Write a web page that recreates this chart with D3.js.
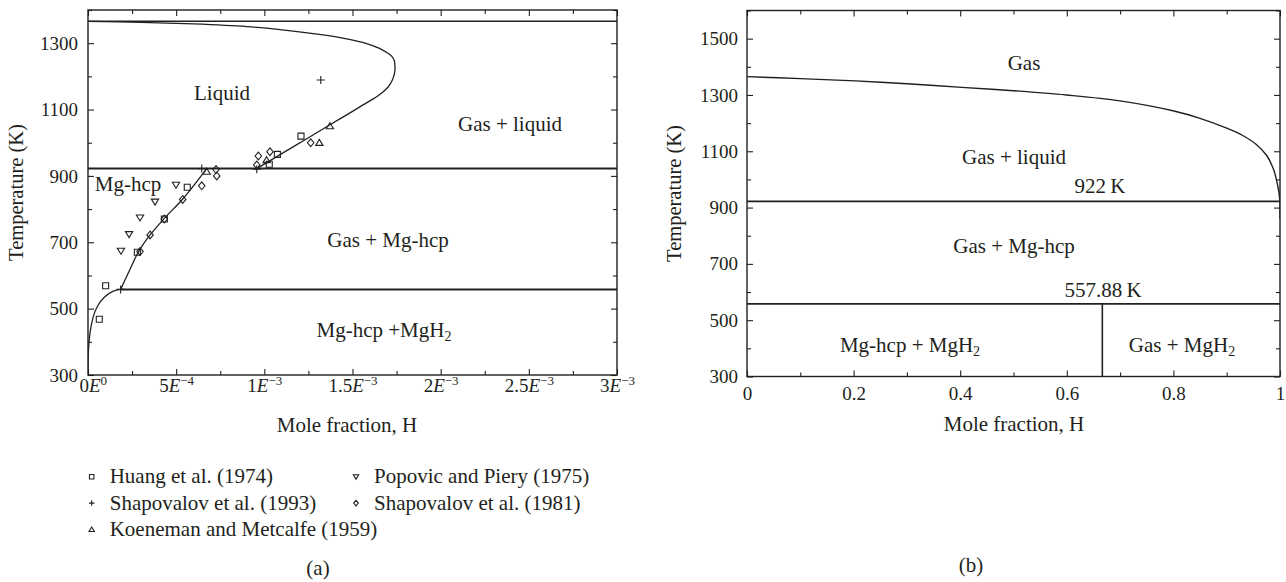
<!DOCTYPE html>
<html>
<head>
<meta charset="utf-8">
<script src="https://cdn.jsdelivr.net/npm/d3@7"></script>
<style>
    body { margin: 0; background: #fff; }
    svg text { font-family: "Liberation Serif", "Times New Roman", serif; fill: #231f20; }
</style>
</head>
<body>
<svg id="chart" width="1286" height="582"></svg>
<script>
// ---------- Panel (a): H in Mg, low mole fraction ----------
const xTicksA = [0, 5e-4, 1e-3, 1.5e-3, 2e-3, 2.5e-3, 3e-3];
const xMinorA = [2.5e-4, 7.5e-4, 1.25e-3, 1.75e-3, 2.25e-3, 2.75e-3];
const xMantA = ["0", "5", "1", "1.5", "2", "2.5", "3"];
const xExpA = ["0", "\u22124", "\u22123", "\u22123", "\u22123", "\u22123", "\u22123"];
const yTicksA = [300, 500, 700, 900, 1100, 1300];
const yMinorA = [400, 600, 800, 1000, 1200, 1400];

// gas / liquid boundary (from the eutectic up round the nose to x = 0)
const gasLiquidA = [
    [0.957e-3, 922], [1.089e-3, 964], [1.25e-3, 1015], [1.372e-3, 1054], [1.467e-3, 1084],
    [1.56e-3, 1114], [1.62e-3, 1133], [1.666e-3, 1150], [1.702e-3, 1168], [1.726e-3, 1189],
    [1.738e-3, 1209], [1.741e-3, 1229], [1.737e-3, 1247], [1.722e-3, 1261], [1.694e-3, 1272],
    [1.65e-3, 1285], [1.58e-3, 1299], [1.467e-3, 1313], [1.3e-3, 1327], [1.089e-3, 1341],
    [0.9e-3, 1350], [0.6e-3, 1358], [0.3e-3, 1363], [0, 1366]
];
// Mg-hcp solvus, below and above the 557.88 K line
const solvusLowA = [
    [0, 300], [0.001e-3, 355], [0.007e-3, 405], [0.017e-3, 445], [0.030e-3, 476],
    [0.058e-3, 511], [0.096e-3, 536], [0.143e-3, 553], [0.185e-3, 558]
];
const solvusHighA = [
    [0.185e-3, 558], [0.235e-3, 615], [0.285e-3, 670], [0.352e-3, 722],
    [0.433e-3, 772], [0.54e-3, 832], [0.673e-3, 922]
];
// isotherms: [T, xStart, xEnd]
const isothermsA = [[1366, 0, 3e-3], [922, 0, 3e-3], [557.88, 0.185e-3, 3e-3]];

// measured points
const huang1974 = [[1.208e-3, 1020], [1.074e-3, 965], [1.028e-3, 935], [0.563e-3, 866],
    [0.433e-3, 770], [0.280e-3, 670], [0.100e-3, 569], [0.064e-3, 468]];
const popovic1975 = [[0.499e-3, 873], [0.380e-3, 822], [0.295e-3, 774], [0.233e-3, 724], [0.187e-3, 674]];
const shapovalov1993 = [[1.320e-3, 1189], [0.645e-3, 922], [0.957e-3, 920], [0.185e-3, 558]];
const shapovalov1981 = [[1.263e-3, 1000], [1.032e-3, 973], [0.966e-3, 960], [0.957e-3, 933],
    [0.730e-3, 900], [0.726e-3, 919], [0.645e-3, 870], [0.537e-3, 829], [0.433e-3, 770],
    [0.352e-3, 722], [0.295e-3, 672]];
const koeneman1959 = [[1.372e-3, 1050], [1.312e-3, 1000], [1.013e-3, 948], [0.673e-3, 913]];

// ---------- Panel (b): full composition range ----------
const xTicksB = [0, 0.2, 0.4, 0.6, 0.8, 1];
const xMinorB = [0.1, 0.3, 0.5, 0.7, 0.9];
const xLabelsB = ["0", "0.2", "0.4", "0.6", "0.8", "1"];
const yTicksB = [300, 500, 700, 900, 1100, 1300, 1500];
const yMinorB = [400, 600, 800, 1000, 1200, 1400, 1600];

const dewLineB = [
    [0, 1365], [0.1, 1358], [0.203, 1350], [0.3, 1340], [0.403, 1327], [0.5, 1315],
    [0.599, 1300], [0.7, 1279], [0.801, 1243], [0.85, 1217], [0.9, 1182], [0.93, 1156],
    [0.955, 1125], [0.975, 1085], [0.988, 1035], [0.996, 975], [0.9995, 930], [1, 860]
];
const isothermsB = [[922, 0, 1], [557.88, 0, 1]];
const mgh2X = 2 / 3;   // MgH2 line composition
const mgh2Top = 557.88;

// ---------- setup ----------
const ink = "#231f20";
const svg = d3.select("#chart");

const xA = d3.scaleLinear().domain([0, 3e-3]).range([88, 617]);
const yA = d3.scaleLinear().domain([300, 1400]).range([375, 10]);
const xB = d3.scaleLinear().domain([0, 1]).range([747, 1280]);
const yB = d3.scaleLinear().domain([300, 1600]).range([376.5, 10.5]);

// custom marker shapes
const symbols = {
    square: { draw(c, s) { const r = Math.sqrt(s) / 2; c.rect(-r, -r, 2 * r, 2 * r); } },
    diamond: { draw(c, s) { const r = Math.sqrt(s) / 2; c.moveTo(0, -r * 1.2); c.lineTo(r, 0); c.lineTo(0, r * 1.2); c.lineTo(-r, 0); c.closePath(); } },
    up: { draw(c, s) { const r = Math.sqrt(s) / 2; c.moveTo(0, -r); c.lineTo(r * 1.1, r * 0.8); c.lineTo(-r * 1.1, r * 0.8); c.closePath(); } },
    down: { draw(c, s) { const r = Math.sqrt(s) / 2; c.moveTo(0, r); c.lineTo(r * 1.1, -r * 0.8); c.lineTo(-r * 1.1, -r * 0.8); c.closePath(); } },
    plus: { draw(c, s) { const r = Math.sqrt(s) / 2; c.moveTo(-r, 0); c.lineTo(r, 0); c.moveTo(0, -r); c.lineTo(0, r); } }
};

function drawAxes(x, y, xt, xm, yt, ym, xPad, yPad) {
    const [x0, x1] = x.range();
    const [y0, y1] = y.range();
    const g = svg.append("g").attr("color", ink);
    const clean = s => s.call(a => a.select(".domain").remove());

    const bottom = g.append("g").attr("transform", `translate(0,${y0})`)
        .call(d3.axisBottom(x).tickValues(xt).tickSize(-6).tickPadding(xPad)).call(clean);
    g.append("g").attr("transform", `translate(0,${y0})`)
        .call(d3.axisBottom(x).tickValues(xm).tickSize(-4).tickFormat("")).call(clean);
    g.append("g").attr("transform", `translate(0,${y1})`)
        .call(d3.axisTop(x).tickValues(xt).tickSize(-6).tickFormat("")).call(clean);
    g.append("g").attr("transform", `translate(0,${y1})`)
        .call(d3.axisTop(x).tickValues(xm).tickSize(-4).tickFormat("")).call(clean);

    g.append("g").attr("transform", `translate(${x0},0)`)
        .call(d3.axisLeft(y).tickValues(yt).tickSize(-6).tickPadding(yPad).tickFormat(d3.format("d"))).call(clean);
    g.append("g").attr("transform", `translate(${x0},0)`)
        .call(d3.axisLeft(y).tickValues(ym).tickSize(-4).tickFormat("")).call(clean);
    g.append("g").attr("transform", `translate(${x1},0)`)
        .call(d3.axisRight(y).tickValues(yt).tickSize(-6).tickFormat("")).call(clean);
    g.append("g").attr("transform", `translate(${x1},0)`)
        .call(d3.axisRight(y).tickValues(ym).tickSize(-4).tickFormat("")).call(clean);

    g.selectAll(".tick line").attr("stroke-width", 1.1);
    g.selectAll("text").attr("font-family", null).attr("font-size", 19).attr("fill", ink);

    g.append("rect")
        .attr("x", x0).attr("y", y1).attr("width", x1 - x0).attr("height", y0 - y1)
        .attr("fill", "none").attr("stroke", ink).attr("stroke-width", 1.4);
    return bottom;
}

function clipFor(id, x, y) {
    svg.append("clipPath").attr("id", id).append("rect")
        .attr("x", x.range()[0]).attr("y", y.range()[1])
        .attr("width", x.range()[1] - x.range()[0]).attr("height", y.range()[0] - y.range()[1]);
}

function label(x, y, txt, opts = {}) {
    const t = svg.append("text").attr("x", x).attr("y", y)
        .attr("text-anchor", opts.anchor || "middle")
        .attr("font-size", opts.size || 21);
    if (opts.rotate) t.attr("transform", `rotate(-90,${x},${y})`);
    if (opts.sub) {
        t.append("tspan").text(txt);
        t.append("tspan").attr("dy", "0.3em").attr("font-size", 14).text(opts.sub);
    } else {
        t.text(txt);
    }
    return t;
}

// ---------- panel (a) ----------
clipFor("clipA", xA, yA);
const bottomA = drawAxes(xA, yA, xTicksA, xMinorA, yTicksA, yMinorA, 4, 10);
bottomA.selectAll(".tick text").each(function (d, i) {
    const t = d3.select(this).text(null);
    t.append("tspan").text(xMantA[i]);
    t.append("tspan").attr("font-style", "italic").text("E");
    t.append("tspan").attr("dy", "-0.55em").attr("font-size", 13).text(xExpA[i]);
});
// first label sits a touch right of the corner so it clears the "300"
bottomA.select(".tick text").attr("dx", "0.25em");

const plotA = svg.append("g").attr("clip-path", "url(#clipA)");
plotA.selectAll("line.iso").data(isothermsA).join("line")
    .attr("x1", d => xA(d[1])).attr("x2", d => xA(d[2]))
    .attr("y1", d => yA(d[0])).attr("y2", d => yA(d[0]))
    .attr("stroke", ink).attr("stroke-width", (d, i) => i === 0 ? 1.5 : 2);

const lineA = d3.line().x(d => xA(d[0])).y(d => yA(d[1]));
plotA.append("path").attr("d", lineA.curve(d3.curveCatmullRom.alpha(0.5))(gasLiquidA))
    .attr("fill", "none").attr("stroke", ink).attr("stroke-width", 1.3);
plotA.append("path").attr("d", lineA.curve(d3.curveMonotoneX)(solvusLowA))
    .attr("fill", "none").attr("stroke", ink).attr("stroke-width", 1.3);
plotA.append("path").attr("d", lineA.curve(d3.curveCatmullRom.alpha(0.5))(solvusHighA))
    .attr("fill", "none").attr("stroke", ink).attr("stroke-width", 1.3);

const seriesA = [
    { data: huang1974, shape: "square", size: 36 },
    { data: popovic1975, shape: "down", size: 44 },
    { data: shapovalov1993, shape: "plus", size: 64 },
    { data: shapovalov1981, shape: "diamond", size: 42 },
    { data: koeneman1959, shape: "up", size: 44 }
];
seriesA.forEach(s => {
    plotA.append("g").selectAll("path").data(s.data).join("path")
        .attr("transform", d => `translate(${xA(d[0])},${yA(d[1])})`)
        .attr("d", d3.symbol(symbols[s.shape], s.size))
        .attr("fill", "none")
        .attr("stroke", ink).attr("stroke-width", 1.1);
});

label(222, 100, "Liquid");
label(510, 130.5, "Gas + liquid");
label(128, 191, "Mg-hcp");
label(388, 247, "Gas + Mg-hcp");
label(384, 337, "Mg-hcp +MgH", { sub: "2" });
label(347, 431.5, "Mole fraction, H");
label(23, 192.5, "Temperature (K)", { rotate: true, size: 20.5 });

// legend
const legendItems = [
    { name: "Huang et al. (1974)", shape: "square", size: 20, col: 0, row: 0 },
    { name: "Shapovalov et al. (1993)", shape: "plus", size: 30, col: 0, row: 1 },
    { name: "Koeneman and Metcalfe (1959)", shape: "up", size: 24, col: 0, row: 2 },
    { name: "Popovic and Piery (1975)", shape: "down", size: 24, col: 1, row: 0 },
    { name: "Shapovalov et al. (1981)", shape: "diamond", size: 22, col: 1, row: 1 }
];
const legend = svg.append("g").selectAll("g").data(legendItems).join("g")
    .attr("transform", d => `translate(${d.col ? 356 : 91.7},${476.7 + d.row * 26.4})`);
legend.append("path").attr("d", d => d3.symbol(symbols[d.shape], d.size)())
    .attr("fill", "none").attr("stroke", ink).attr("stroke-width", 1.1);
legend.append("text").attr("x", 18).attr("y", 6.5).attr("font-size", 21).text(d => d.name);

label(318, 575, "(a)");

// ---------- panel (b) ----------
clipFor("clipB", xB, yB);
const bottomB = drawAxes(xB, yB, xTicksB, xMinorB, yTicksB, yMinorB, 10.5, 9);
bottomB.selectAll(".tick text").text((d, i) => xLabelsB[i]);

const plotB = svg.append("g").attr("clip-path", "url(#clipB)");
plotB.selectAll("line.iso").data(isothermsB).join("line")
    .attr("x1", d => xB(d[1])).attr("x2", d => xB(d[2]))
    .attr("y1", d => yB(d[0])).attr("y2", d => yB(d[0]))
    .attr("stroke", ink).attr("stroke-width", 1.6);
plotB.append("line")
    .attr("x1", xB(mgh2X)).attr("x2", xB(mgh2X))
    .attr("y1", yB(mgh2Top)).attr("y2", yB(300))
    .attr("stroke", ink).attr("stroke-width", 1.6);
plotB.append("path")
    .attr("d", d3.line().x(d => xB(d[0])).y(d => yB(d[1])).curve(d3.curveCatmullRom.alpha(0.5))(dewLineB))
    .attr("fill", "none").attr("stroke", ink).attr("stroke-width", 1.4);

label(1024, 70, "Gas");
label(1014, 164, "Gas + liquid");
label(1100, 193, "922\u2009K");
label(1014, 252.5, "Gas + Mg-hcp");
label(1103, 297, "557.88\u2009K");
label(910, 351.5, "Mg-hcp + MgH", { sub: "2" });
label(1182, 351.5, "Gas + MgH", { sub: "2" });
label(1014, 430.5, "Mole fraction, H");
label(681, 193.5, "Temperature (K)", { rotate: true, size: 20.5 });

label(971, 572, "(b)");
</script>
</body>
</html>
